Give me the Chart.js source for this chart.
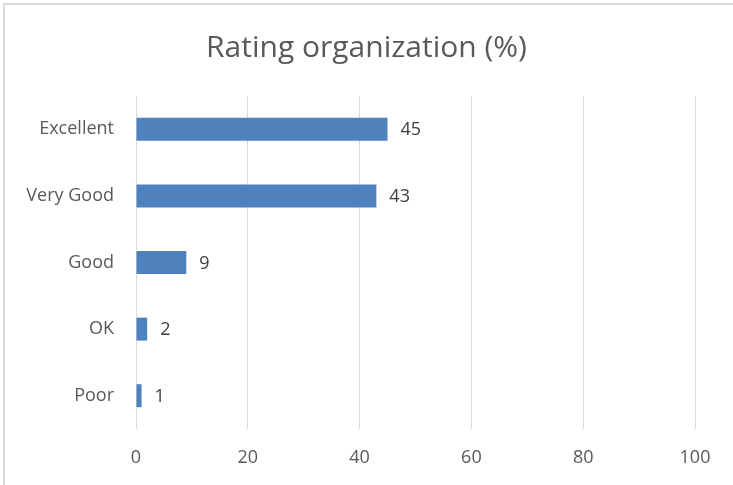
<!DOCTYPE html>
<html>
<head>
<meta charset="utf-8">
<script src="https://cdn.jsdelivr.net/npm/chart.js@4"></script>
<style>
  html, body { margin: 0; padding: 0; background: #fff; }
  #wrap { width: 733px; height: 485px; position: relative; }
</style>
</head>
<body>
<div id="wrap"><canvas id="chart" width="733" height="485"></canvas></div>
<script>
const categories = ["Excellent", "Very Good", "Good", "OK", "Poor"];
const ratings = [45, 43, 9, 2, 1];
const xTicks = [0, 20, 40, 60, 80, 100];

const FONT = "'Open Sans', sans-serif";
const TEXT = '#595959';

// frame: only top and left edges are visible in the original
const framePlugin = {
    id: 'frame',
    beforeDraw(chart) {
        const ctx = chart.ctx;
        ctx.save();
        ctx.strokeStyle = '#d9d9d9';
        ctx.lineWidth = 2;
        ctx.beginPath();
        ctx.moveTo(4, chart.height);
        ctx.lineTo(4, 4);
        ctx.lineTo(chart.width, 4);
        ctx.stroke();
        ctx.restore();
    }
};

// value labels right of each bar
const valueLabels = {
    id: 'valueLabels',
    afterDatasetsDraw(chart) {
        const ctx = chart.ctx;
        const meta = chart.getDatasetMeta(0);
        ctx.save();
        ctx.fillStyle = '#404040';
        ctx.font = "18px " + FONT;
        ctx.textAlign = 'left';
        ctx.textBaseline = 'middle';
        meta.data.forEach((bar, i) => {
            ctx.fillText(ratings[i], bar.x + 13, bar.y + 1);
        });
        ctx.restore();
    }
};

new Chart(document.getElementById('chart'), {
    type: 'bar',
    data: {
        labels: categories,
        datasets: [{
            data: ratings,
            backgroundColor: '#4f81bd',
            barPercentage: 0.345,
            categoryPercentage: 1
        }]
    },
    options: {
        indexAxis: 'y',
        responsive: false,
        animation: false,
        layout: { padding: 0 },
        scales: {
            x: {
                min: 0,
                max: 100,
                afterBuildTicks(scale) {
                    scale.ticks = xTicks.map(v => ({ value: v }));
                },
                afterFit(scale) { scale.height = 56; },
                grid: { color: '#d9d9d9', lineWidth: 1, drawTicks: false },
                border: { display: false },
                ticks: { color: TEXT, font: { family: FONT, size: 18 }, padding: 18 }
            },
            y: {
                afterFit(scale) { scale.width = 136; },
                grid: { display: false },
                border: { display: false },
                ticks: { color: TEXT, font: { family: FONT, size: 18 }, padding: 14 }
            },
            // empty right-hand box, keeps the plot off the right edge
            yRight: {
                type: 'category',
                position: 'right',
                afterFit(scale) { scale.width = 38; },
                grid: { display: false },
                border: { display: false },
                ticks: { display: false }
            }
        },
        plugins: {
            legend: { display: false },
            tooltip: { enabled: false },
            title: {
                display: true,
                text: 'Rating organization (%)',
                color: TEXT,
                font: { family: FONT, size: 30, weight: 'normal' },
                padding: { top: 30, bottom: 30 }
            }
        }
    },
    plugins: [framePlugin, valueLabels]
});
</script>
</body>
</html>
